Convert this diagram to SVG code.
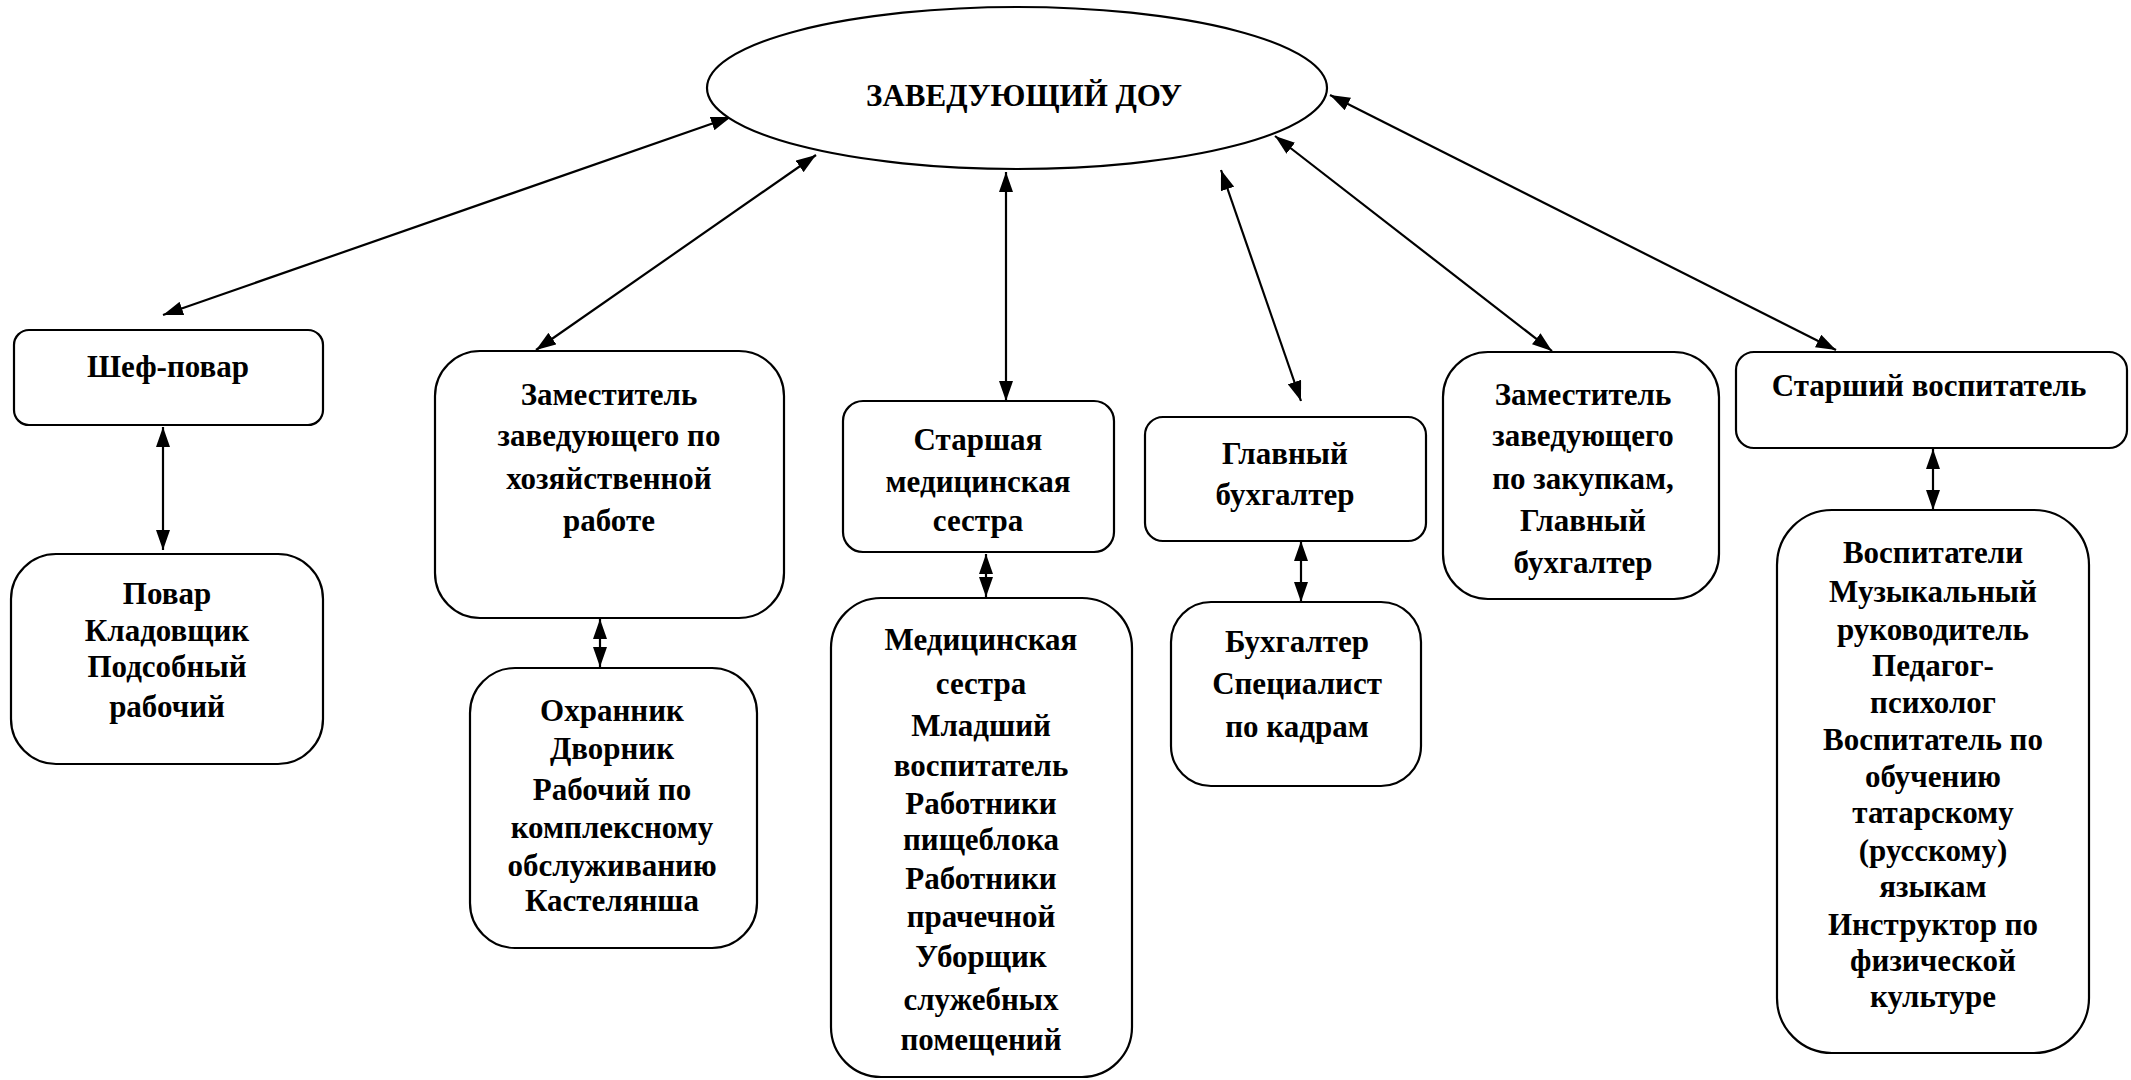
<svg xmlns="http://www.w3.org/2000/svg" width="2131" height="1080" viewBox="0 0 2131 1080">
<style>
.n{fill:#fff;stroke:#000;stroke-width:2.2}
.t{font-family:"Liberation Serif","Times New Roman",serif;font-weight:bold;font-size:31px;text-anchor:middle;fill:#000}
.c{stroke:#000;stroke-width:2.2;fill:none;marker-start:url(#a);marker-end:url(#a)}
</style>
<defs>
<marker id="a" viewBox="0 0 20 14" refX="20" refY="7" markerWidth="20" markerHeight="14" markerUnits="userSpaceOnUse" orient="auto-start-reverse">
<path d="M0,0 L20,7 L0,14 z" fill="#000"/>
</marker>
</defs>
<rect width="2131" height="1080" fill="#fff"/>
<g id="connectors">
<line class="c" x1="731" y1="117" x2="163" y2="315"/>
<line class="c" x1="816" y1="155" x2="536" y2="350"/>
<line class="c" x1="1006" y1="172" x2="1006" y2="401"/>
<line class="c" x1="1221" y1="170" x2="1301" y2="401"/>
<line class="c" x1="1275" y1="136" x2="1552" y2="351"/>
<line class="c" x1="1330" y1="95" x2="1836" y2="350"/>
<line class="c" x1="163" y1="427" x2="163" y2="550"/>
<line class="c" x1="600" y1="619" x2="600" y2="667"/>
<line class="c" x1="986" y1="554" x2="986" y2="597"/>
<line class="c" x1="1301" y1="541" x2="1301" y2="602"/>
<line class="c" x1="1933" y1="449" x2="1933" y2="510"/>
</g>
<g id="head">
<ellipse class="n" cx="1017" cy="88" rx="310" ry="81"/>
<text class="t" x="1024" y="106">ЗАВЕДУЮЩИЙ ДОУ</text>
</g>
<g id="chef">
<rect class="n" x="14" y="330" width="309" height="95" rx="15"/>
<text class="t" x="168" y="377">Шеф-повар</text>
</g>
<g id="cooks">
<rect class="n" x="11" y="554" width="312" height="210" rx="45"/>
<text class="t" x="167" y="604">Повар</text>
<text class="t" x="167" y="641">Кладовщик</text>
<text class="t" x="167" y="677">Подсобный</text>
<text class="t" x="167" y="717">рабочий</text>
</g>
<g id="deputy-house">
<rect class="n" x="435" y="351" width="349" height="267" rx="45"/>
<text class="t" x="609" y="405">Заместитель</text>
<text class="t" x="609" y="446">заведующего по</text>
<text class="t" x="609" y="489">хозяйственной</text>
<text class="t" x="609" y="531">работе</text>
</g>
<g id="guards">
<rect class="n" x="470" y="668" width="287" height="280" rx="45"/>
<text class="t" x="612" y="721">Охранник</text>
<text class="t" x="612" y="759">Дворник</text>
<text class="t" x="612" y="800">Рабочий по</text>
<text class="t" x="612" y="838">комплексному</text>
<text class="t" x="612" y="876">обслуживанию</text>
<text class="t" x="612" y="911">Кастелянша</text>
</g>
<g id="head-nurse">
<rect class="n" x="843" y="401" width="271" height="151" rx="20"/>
<text class="t" x="978" y="450">Старшая</text>
<text class="t" x="978" y="492">медицинская</text>
<text class="t" x="978" y="531">сестра</text>
</g>
<g id="nurses">
<rect class="n" x="831" y="598" width="301" height="479" rx="50"/>
<text class="t" x="981" y="650">Медицинская</text>
<text class="t" x="981" y="694">сестра</text>
<text class="t" x="981" y="736">Младший</text>
<text class="t" x="981" y="776">воспитатель</text>
<text class="t" x="981" y="814">Работники</text>
<text class="t" x="981" y="850">пищеблока</text>
<text class="t" x="981" y="889">Работники</text>
<text class="t" x="981" y="927">прачечной</text>
<text class="t" x="981" y="967">Уборщик</text>
<text class="t" x="981" y="1010">служебных</text>
<text class="t" x="981" y="1050">помещений</text>
</g>
<g id="chief-accountant">
<rect class="n" x="1145" y="417" width="281" height="124" rx="18"/>
<text class="t" x="1285" y="464">Главный</text>
<text class="t" x="1285" y="505">бухгалтер</text>
</g>
<g id="accountants">
<rect class="n" x="1171" y="602" width="250" height="184" rx="40"/>
<text class="t" x="1297" y="652">Бухгалтер</text>
<text class="t" x="1297" y="694">Специалист</text>
<text class="t" x="1297" y="737">по кадрам</text>
</g>
<g id="deputy-purchase">
<rect class="n" x="1443" y="352" width="276" height="247" rx="45"/>
<text class="t" x="1583" y="405">Заместитель</text>
<text class="t" x="1583" y="446">заведующего</text>
<text class="t" x="1583" y="489">по закупкам,</text>
<text class="t" x="1583" y="531">Главный</text>
<text class="t" x="1583" y="573">бухгалтер</text>
</g>
<g id="senior-educator">
<rect class="n" x="1736" y="352" width="391" height="96" rx="18"/>
<text class="t" x="1929" y="396">Старший воспитатель</text>
</g>
<g id="educators">
<rect class="n" x="1777" y="510" width="312" height="543" rx="55"/>
<text class="t" x="1933" y="563">Воспитатели</text>
<text class="t" x="1933" y="602">Музыкальный</text>
<text class="t" x="1933" y="640">руководитель</text>
<text class="t" x="1933" y="676">Педагог-</text>
<text class="t" x="1933" y="713">психолог</text>
<text class="t" x="1933" y="750">Воспитатель по</text>
<text class="t" x="1933" y="787">обучению</text>
<text class="t" x="1933" y="823">татарскому</text>
<text class="t" x="1933" y="861">(русскому)</text>
<text class="t" x="1933" y="897">языкам</text>
<text class="t" x="1933" y="935">Инструктор по</text>
<text class="t" x="1933" y="971">физической</text>
<text class="t" x="1933" y="1007">культуре</text>
</g>
</svg>
